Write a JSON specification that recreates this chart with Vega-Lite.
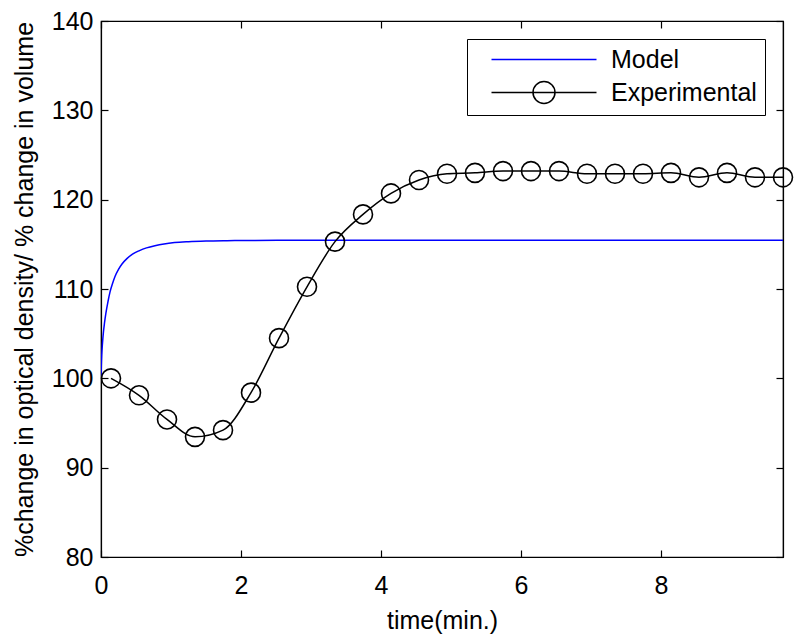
{
  "$schema": "https://vega.github.io/schema/vega-lite/v6.json",
  "width": 682,
  "height": 536,
  "autosize": {"type": "none"},
  "padding": {"left": 101, "top": 21, "right": 17, "bottom": 80},
  "background": "white",
  "data": {"values": [
    {"series": "Model", "t": 0, "v": 100},
    {"series": "Model", "t": 0.005, "v": 101.5},
    {"series": "Model", "t": 0.01, "v": 102.5},
    {"series": "Model", "t": 0.02, "v": 103.8},
    {"series": "Model", "t": 0.035, "v": 105.2},
    {"series": "Model", "t": 0.05, "v": 106.2},
    {"series": "Model", "t": 0.07, "v": 107.3},
    {"series": "Model", "t": 0.1, "v": 108.6},
    {"series": "Model", "t": 0.13, "v": 109.7},
    {"series": "Model", "t": 0.16, "v": 110.5},
    {"series": "Model", "t": 0.2, "v": 111.4},
    {"series": "Model", "t": 0.25, "v": 112.2},
    {"series": "Model", "t": 0.3, "v": 112.8},
    {"series": "Model", "t": 0.37, "v": 113.4},
    {"series": "Model", "t": 0.45, "v": 113.9},
    {"series": "Model", "t": 0.55, "v": 114.3},
    {"series": "Model", "t": 0.65, "v": 114.6},
    {"series": "Model", "t": 0.77, "v": 114.85},
    {"series": "Model", "t": 0.9, "v": 115.05},
    {"series": "Model", "t": 1.05, "v": 115.2},
    {"series": "Model", "t": 1.25, "v": 115.3},
    {"series": "Model", "t": 1.5, "v": 115.37},
    {"series": "Model", "t": 1.8, "v": 115.41},
    {"series": "Model", "t": 2.2, "v": 115.44},
    {"series": "Model", "t": 2.8, "v": 115.45},
    {"series": "Model", "t": 4, "v": 115.45},
    {"series": "Model", "t": 6, "v": 115.45},
    {"series": "Model", "t": 8, "v": 115.45},
    {"series": "Model", "t": 9.743, "v": 115.45},
    {"series": "Experimental", "t": 0.143, "v": 100.0},
    {"series": "Experimental", "t": 0.543, "v": 98.1},
    {"series": "Experimental", "t": 0.943, "v": 95.4},
    {"series": "Experimental", "t": 1.343, "v": 93.45},
    {"series": "Experimental", "t": 1.743, "v": 94.2},
    {"series": "Experimental", "t": 2.143, "v": 98.4},
    {"series": "Experimental", "t": 2.543, "v": 104.5},
    {"series": "Experimental", "t": 2.943, "v": 110.25},
    {"series": "Experimental", "t": 3.343, "v": 115.3},
    {"series": "Experimental", "t": 3.743, "v": 118.35},
    {"series": "Experimental", "t": 4.143, "v": 120.7},
    {"series": "Experimental", "t": 4.543, "v": 122.2},
    {"series": "Experimental", "t": 4.943, "v": 122.9},
    {"series": "Experimental", "t": 5.343, "v": 123.0},
    {"series": "Experimental", "t": 5.743, "v": 123.2},
    {"series": "Experimental", "t": 6.143, "v": 123.2},
    {"series": "Experimental", "t": 6.543, "v": 123.2},
    {"series": "Experimental", "t": 6.943, "v": 122.9},
    {"series": "Experimental", "t": 7.343, "v": 122.9},
    {"series": "Experimental", "t": 7.743, "v": 122.9},
    {"series": "Experimental", "t": 8.143, "v": 123.0},
    {"series": "Experimental", "t": 8.543, "v": 122.5},
    {"series": "Experimental", "t": 8.943, "v": 123.0},
    {"series": "Experimental", "t": 9.343, "v": 122.5},
    {"series": "Experimental", "t": 9.743, "v": 122.5}
  ]},
  "layer": [
    {
      "mark": {"type": "line", "strokeWidth": 1.5, "interpolate": "monotone", "clip": true},
      "encoding": {
        "x": {"field": "t", "type": "quantitative",
              "scale": {"domain": [0, 9.743], "nice": false, "zero": false},
              "axis": {"orient": "bottom", "title": "time(min.)", "values": [0, 2, 4, 6, 8],
                       "tickSize": -7, "labelPadding": 23, "titlePadding": 10, "grid": false,
                       "labelFlush": false}},
        "y": {"field": "v", "type": "quantitative",
              "scale": {"domain": [80, 140], "nice": false, "zero": false},
              "axis": {"orient": "left", "title": "%change in optical density/ % change in volume",
                       "values": [80, 90, 100, 110, 120, 130, 140],
                       "tickSize": -7, "labelPadding": 15, "titlePadding": 14, "grid": false,
                       "labelFlush": false}},
        "color": {"field": "series", "type": "nominal",
                  "scale": {"domain": ["Model", "Experimental"], "range": ["#0000ff", "#000000"]},
                  "legend": {"title": null, "orient": "top-right", "offset": 18,
                             "strokeColor": "black", "fillColor": "white", "padding": 8,
                             "rowPadding": 5, "labelFontSize": 25, "labelFont": "Liberation Sans",
                             "labelColor": "black", "symbolSize": 400, "labelOffset": 111,
                             "symbolStrokeWidth": 1.5,
                             "encode": {"symbols": {"update": {
                               "shape": {"signal": "datum.value === 'Model' ? 'M0.4,0H10.9' : 'M0.4,0H10.9M6.75,0A1.1,1.1,0,1,1,4.55,0A1.1,1.1,0,1,1,6.75,0'"},
                               "fill": {"value": "transparent"},
                               "strokeWidth": {"value": 1.5}
                             }}}}}
      }
    },
    {
      "transform": [{"filter": "datum.series === 'Experimental'"}],
      "mark": {"type": "point", "shape": "circle", "filled": false, "stroke": "black", "strokeWidth": 1.6, "size": 361, "opacity": 1},
      "encoding": {
        "x": {"field": "t", "type": "quantitative",
              "scale": {"domain": [0, 9.743], "nice": false, "zero": false},
              "axis": {"orient": "top", "title": null, "labels": false, "values": [0, 2, 4, 6, 8], "tickSize": -7, "grid": false}},
        "y": {"field": "v", "type": "quantitative",
              "scale": {"domain": [80, 140], "nice": false, "zero": false},
              "axis": {"orient": "right", "title": null, "labels": false, "values": [80, 90, 100, 110, 120, 130, 140], "tickSize": -7, "grid": false}}
      }
    }
  ],
  "resolve": {"axis": {"x": "independent", "y": "independent"}},
  "config": {
    "view": {"stroke": "black", "strokeWidth": 1.2},
    "axis": {
      "domainColor": "black", "domainWidth": 1.2, "tickColor": "black", "tickWidth": 1.2,
      "labelColor": "black", "titleColor": "black",
      "labelFont": "Liberation Sans", "titleFont": "Liberation Sans",
      "labelFontSize": 25, "titleFontSize": 25, "titleFontWeight": "normal"
    }
  }
}
